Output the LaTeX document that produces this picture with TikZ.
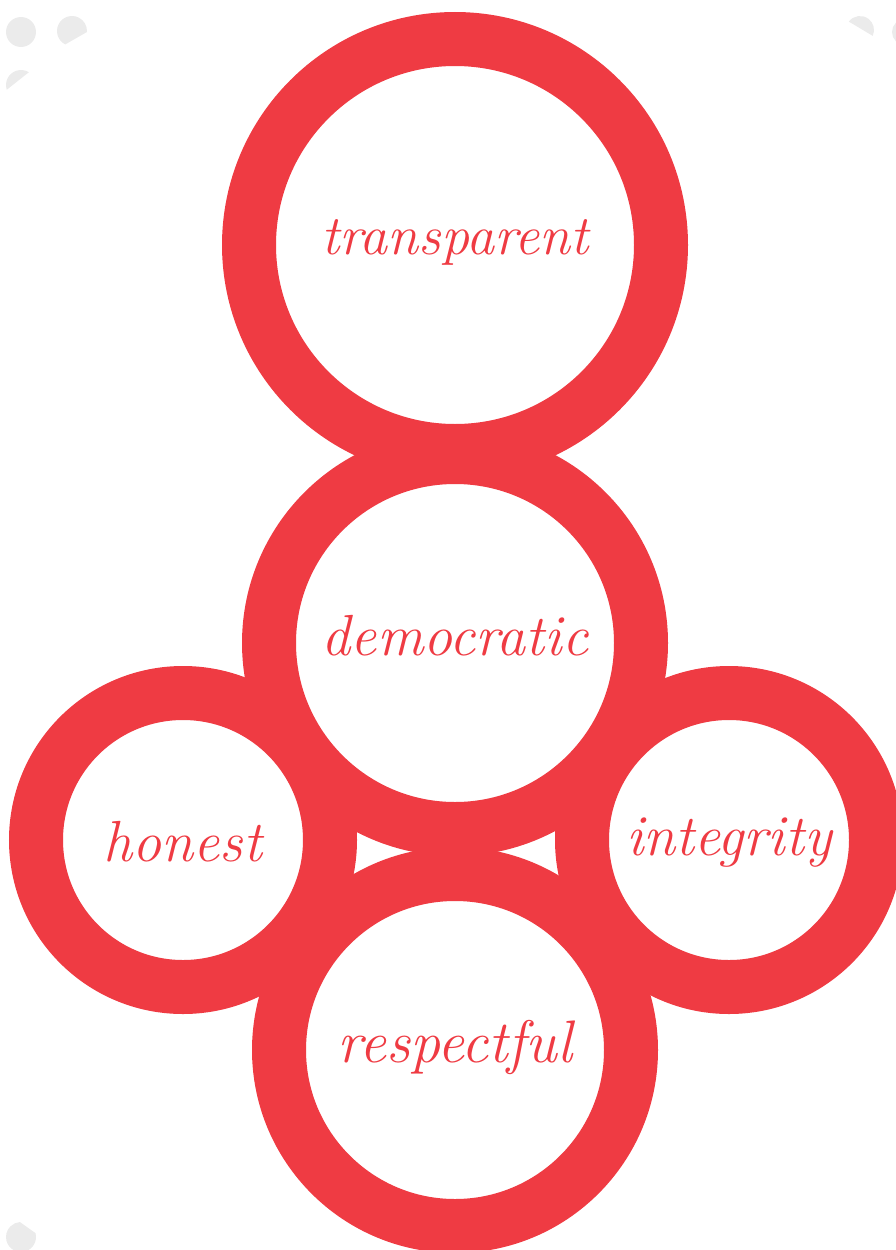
\documentclass[tikz,border=0pt]{standalone}
\usepackage{fontspec}
\definecolor{ringred}{HTML}{EF3B43}
\definecolor{dotgray}{HTML}{EBEBEB}
\begin{document}
\begin{tikzpicture}[x=1pt, y=-1pt,
    ring/.style={circle, draw=ringred, line width=54pt, fill=white, text=ringred, inner sep=0pt},
    word/.style 2 args={font={\fontsize{#1}{#1}\selectfont\itshape\addfontfeature{LetterSpace=#2}}},
    base/.style={text height=#1, text depth=0pt}]
    \useasboundingbox (0,0) rectangle (896,1250);

    % Grey dots in the corners
    \fill[dotgray] (21,32) circle (15);
    \fill[dotgray] (72,31) ++(116.6:15) arc[start angle=116.6, end angle=363.8, radius=15] -- cycle;
    \fill[dotgray] (21,85) ++(161.6:15) arc[start angle=161.6, end angle=301.6, radius=15] -- cycle;
    \fill[dotgray] (860,30) ++(216.9:14) arc[start angle=216.9, end angle=384.8, radius=14] -- cycle;
    \fill[dotgray] (905,32) circle (13);
    \fill[dotgray] (21,1237) ++(345:15) arc[start angle=345, end angle=626, radius=15] -- cycle;

    % Rings
    \node[ring, minimum size=412pt, word={56}{21}, base=18pt] (transparent) at (455,245) {transparent};
    \node[ring, minimum size=372pt, word={58}{5}, base=24pt] (democratic) at (455,643) {democratic};
    \node[ring, minimum size=294pt, word={58}{5}, base=42pt] (honest) at (183,840) {honest};
    \node[ring, minimum size=294pt, word={58}{5}, base=30pt] (integrity) at (729,840) {integrity};
    \node[ring, minimum size=352pt, word={60}{5}, base=24pt] (respectful) at (455,1050) {respectful};
\end{tikzpicture}
\end{document}
